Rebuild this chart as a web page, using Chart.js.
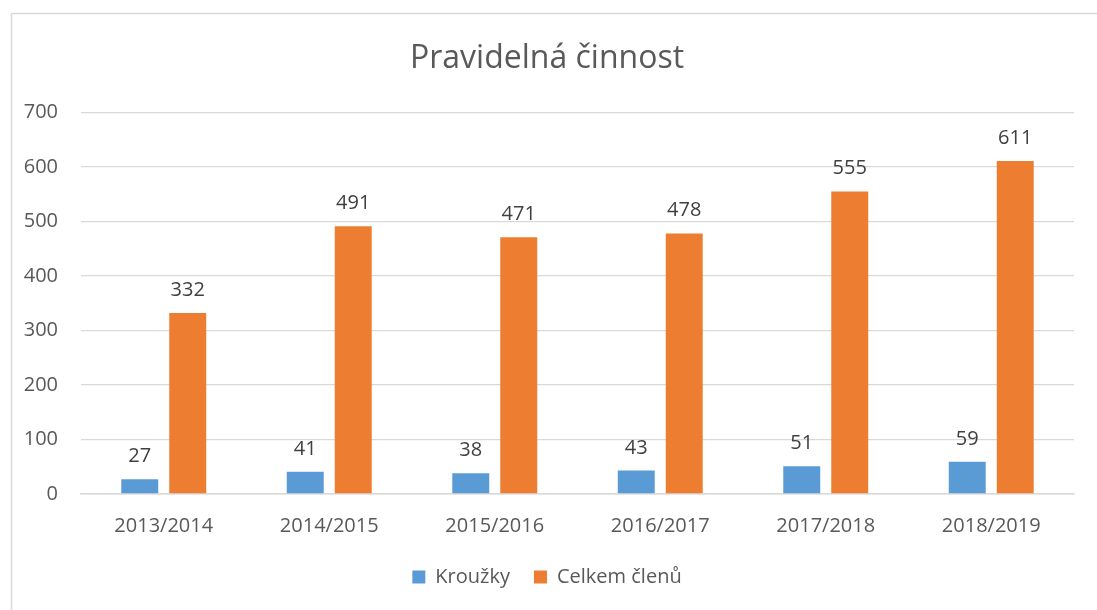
<!DOCTYPE html>
<html>
<head>
<meta charset="utf-8">
<script src="https://cdn.jsdelivr.net/npm/chart.js@4/dist/chart.umd.min.js"></script>
<style>
  html, body { margin: 0; padding: 0; background: #fff; }
  #wrap { position: relative; width: 1097px; height: 610px; }
</style>
</head>
<body>
<div id="wrap"><canvas id="chart" width="1097" height="610"></canvas></div>
<script>
// Data
const categories = ['2013/2014', '2014/2015', '2015/2016', '2016/2017', '2017/2018', '2018/2019'];
const krouzky = [27, 41, 38, 43, 51, 59];
const celkemClenu = [332, 491, 471, 478, 555, 611];
const yTicks = [0, 100, 200, 300, 400, 500, 600, 700];

const FONT = "'Open Sans', sans-serif";

// ramecek kolem grafu
const borderPlugin = {
    id: 'frame',
    beforeDraw(chart) {
        const ctx = chart.ctx;
        ctx.save();
        ctx.strokeStyle = '#d9d9d9';
        ctx.lineWidth = 1.5;
        ctx.strokeRect(11.5, 13.5, 1100, 620);
        ctx.restore();
    }
};

// popisky hodnot nad sloupci
const valueLabels = {
    id: 'valueLabels',
    afterDatasetsDraw(chart) {
        const ctx = chart.ctx;
        ctx.save();
        ctx.fillStyle = '#404040';
        ctx.font = '20px ' + FONT;
        ctx.textAlign = 'center';
        ctx.textBaseline = 'alphabetic';
        chart.data.datasets.forEach((ds, i) => {
            chart.getDatasetMeta(i).data.forEach((bar, j) => {
                ctx.fillText(ds.data[j], bar.x, bar.y - 17);
            });
        });
        ctx.restore();
    }
};

const ctx = document.getElementById('chart').getContext('2d');
new Chart(ctx, {
    type: 'bar',
    data: {
        labels: categories,
        datasets: [
            {
                label: 'Kroužky',
                data: krouzky,
                backgroundColor: '#5b9bd5',
                categoryPercentage: 0.58,
                barPercentage: 0.77
            },
            {
                label: 'Celkem členů',
                data: celkemClenu,
                backgroundColor: '#ed7d31',
                categoryPercentage: 0.58,
                barPercentage: 0.77
            }
        ]
    },
    options: {
        responsive: false,
        animation: false,
        layout: {
            padding: { top: 20, left: 20, right: 23, bottom: 13 }
        },
        scales: {
            y: {
                min: 0,
                max: 700,
                afterBuildTicks(scale) {
                    scale.ticks = yTicks.map(v => ({ value: v }));
                },
                afterFit(scale) { scale.width = 61; },
                grid: { color: '#d9d9d9', lineWidth: 1.3, drawTicks: false },
                border: { display: false },
                ticks: {
                    color: '#595959',
                    font: { family: FONT, size: 20 },
                    padding: 23
                }
            },
            x: {
                grid: { display: false, drawTicks: false },
                border: { color: '#d9d9d9', width: 1.5 },
                afterFit(scale) { scale.height = 49; },
                ticks: {
                    color: '#595959',
                    font: { family: FONT, size: 20 },
                    padding: 20
                }
            }
        },
        plugins: {
            title: {
                display: true,
                text: 'Pravidelná činnost',
                color: '#595959',
                font: { family: FONT, size: 32, weight: 'normal' },
                padding: { top: 20, bottom: 34 }
            },
            legend: {
                position: 'bottom',
                labels: {
                    color: '#595959',
                    font: { family: FONT, size: 20 },
                    boxWidth: 13,
                    boxHeight: 13,
                    padding: 24
                }
            },
            tooltip: { enabled: false }
        }
    },
    plugins: [borderPlugin, valueLabels]
});
</script>
</body>
</html>
